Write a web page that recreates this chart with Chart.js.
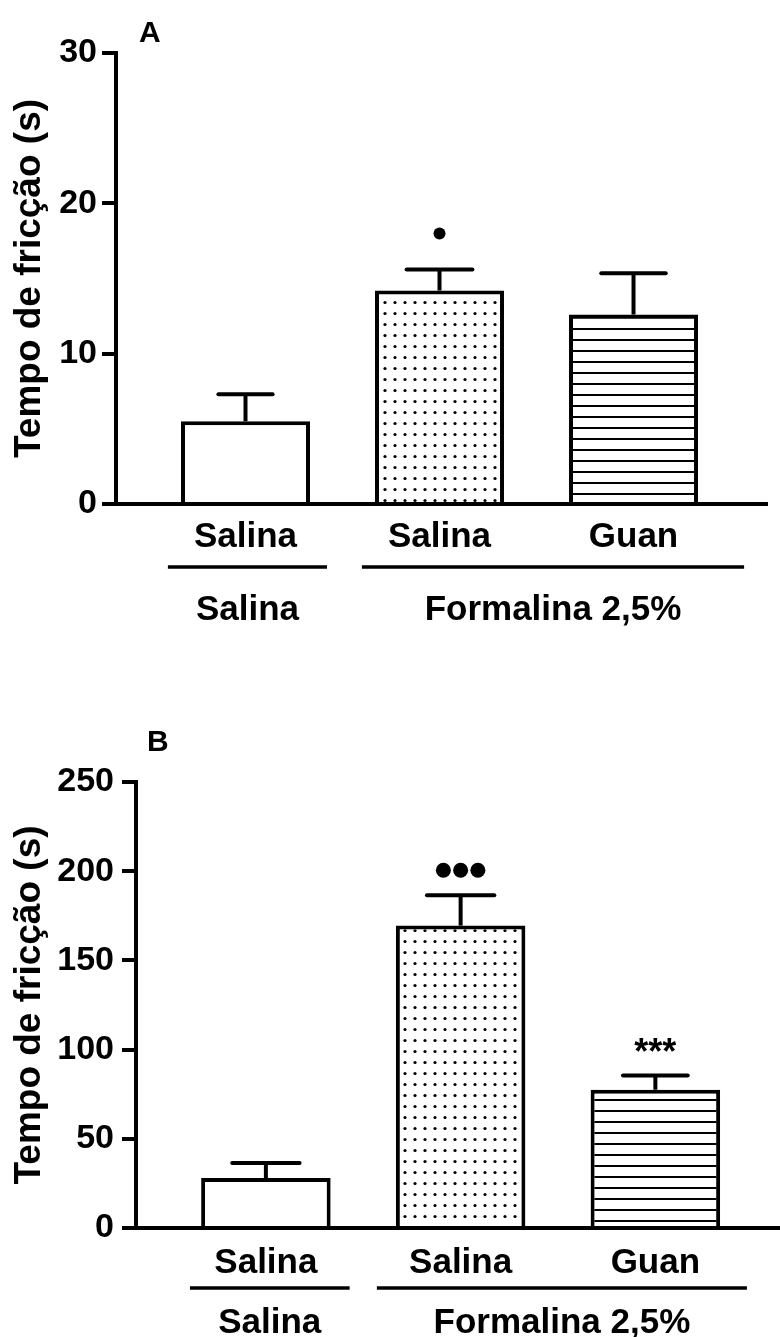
<!DOCTYPE html>
<html>
<head>
<meta charset="utf-8">
<script src="https://cdn.jsdelivr.net/npm/chart.js@4.4.1/dist/chart.umd.min.js"></script>
<style>
  html, body { margin: 0; padding: 0; background: #fff; }
  #wrap { position: relative; width: 780px; height: 1337px; }
  canvas { position: absolute; left: 0; }
</style>
</head>
<body>
<div id="wrap">
  <canvas id="chartA" width="780" height="650" style="top:0"></canvas>
  <canvas id="chartB" width="780" height="687" style="top:650px"></canvas>
</div>
<script>
// categories shared by both panels
var categories = ['Salina', 'Salina', 'Guan'];
var groupLabels = ['Salina', 'Formalina 2,5%'];

// panel A
var meansA = [5.5, 14.2, 12.6];
var errorsA = [1.8, 1.4, 2.75];
var marksA = ['', '•', ''];
var ticksA = [0, 10, 20, 30];

// panel B
var meansB = [28, 169.5, 77.5];
var errorsB = [8.4, 17, 8];
var marksB = ['', '•••', '***'];
var ticksB = [0, 50, 100, 150, 200, 250];

var FONT = "'Liberation Sans', Arial, Helvetica, sans-serif";

function dotPattern() {
    var c = document.createElement('canvas');
    c.width = 10; c.height = 11;
    var g = c.getContext('2d');
    g.fillStyle = '#fff';
    g.fillRect(0, 0, c.width, c.height);
    g.fillStyle = '#000';
    g.beginPath();
    g.arc(5, 5.5, 1.6, 0, Math.PI * 2);
    g.fill();
    return g.createPattern(c, 'repeat');
}

function linePattern() {
    var c = document.createElement('canvas');
    c.width = 8; c.height = 11;
    var g = c.getContext('2d');
    g.fillStyle = '#fff';
    g.fillRect(0, 0, c.width, c.height);
    g.fillStyle = '#000';
    g.fillRect(0, 9, c.width, 2);
    return g.createPattern(c, 'repeat');
}

// error bars, significance marks and the grouping lines under the axis
var barExtras = {
    id: 'barExtras',
    afterDatasetsDraw: function(chart, args, opts) {
        var ctx = chart.ctx;
        var yScale = chart.scales.y;
        var xScale = chart.scales.x;
        var meta = chart.getDatasetMeta(0);
        ctx.save();
        ctx.strokeStyle = '#000';
        ctx.fillStyle = '#000';
        meta.data.forEach(function(bar, i) {
            var top = yScale.getPixelForValue(opts.means[i] + opts.errors[i]);
            var half = bar.width * opts.capFrac[i] / 2;
            ctx.lineWidth = 4;
            ctx.lineCap = 'butt';
            ctx.beginPath();
            ctx.moveTo(bar.x, bar.y);
            ctx.lineTo(bar.x, top);
            ctx.stroke();
            ctx.lineCap = 'round';
            ctx.beginPath();
            ctx.moveTo(bar.x - half, top);
            ctx.lineTo(bar.x + half, top);
            ctx.stroke();

            var mark = opts.marks[i];
            if (!mark) return;
            var my = top - opts.markOffset[i];
            if (mark.charAt(0) === '•') {
                var n = mark.length, step = opts.dotRadius * 2.3;
                for (var k = 0; k < n; k++) {
                    ctx.beginPath();
                    ctx.arc(bar.x + (k - (n - 1) / 2) * step, my, opts.dotRadius, 0, Math.PI * 2);
                    ctx.fill();
                }
            } else {
                ctx.font = 'bold 36px ' + FONT;
                ctx.textAlign = 'center';
                ctx.textBaseline = 'middle';
                ctx.fillText(mark, bar.x, my + 6);
            }
        });

        var base = chart.chartArea.bottom;
        ctx.lineCap = 'butt';
        ctx.lineWidth = 3.5;
        ctx.font = 'bold 35px ' + FONT;
        ctx.textAlign = 'center';
        ctx.textBaseline = 'alphabetic';
        opts.groups.forEach(function(g, i) {
            var x0 = xScale.getPixelForValue(g[0]);
            var x1 = xScale.getPixelForValue(g[1]);
            ctx.beginPath();
            ctx.moveTo(x0, base + opts.lineOffset);
            ctx.lineTo(x1, base + opts.lineOffset);
            ctx.stroke();
            ctx.fillText(groupLabels[i], (x0 + x1) / 2, base + opts.labelOffset);
        });
        ctx.restore();
    }
};

function makeChart(id, means, errors, marks, ticks, cfg) {
    var ctx = document.getElementById(id).getContext('2d');
    return new Chart(ctx, {
        type: 'bar',
        data: {
            datasets: [{
                data: means.map(function(v, i) { return { x: i + 1, y: v }; }),
                backgroundColor: ['#fff', dotPattern(), linePattern()],
                borderColor: '#000',
                borderWidth: 4,
                barPercentage: 0.665,
                categoryPercentage: 1
            }]
        },
        options: {
            responsive: false,
            animation: false,
            devicePixelRatio: 1,
            layout: { padding: cfg.padding },
            plugins: {
                legend: { display: false },
                tooltip: { enabled: false },
                barExtras: {
                    means: means,
                    errors: errors,
                    marks: marks,
                    capFrac: cfg.capFrac,
                    markOffset: cfg.markOffset,
                    dotRadius: cfg.dotRadius,
                    groups: cfg.groups,
                    lineOffset: cfg.lineOffset,
                    labelOffset: cfg.labelOffset
                }
            },
            scales: {
                x: {
                    type: 'linear',
                    offset: false,
                    min: cfg.xMin,
                    max: cfg.xMax,
                    grid: { display: false, drawTicks: false },
                    border: { display: true, color: '#000', width: 4 },
                    afterBuildTicks: function(scale) {
                        scale.ticks = categories.map(function(c, i) { return { value: i + 1 }; });
                    },
                    afterFit: function(scale) { scale.height = cfg.xHeight; },
                    ticks: {
                        color: '#000',
                        padding: cfg.xTickPad,
                        maxRotation: 0,
                        autoSkip: false,
                        font: { family: FONT, size: 35, weight: 'bold' },
                        callback: function(v, i) { return categories[i]; }
                    }
                },
                y: {
                    min: 0,
                    max: ticks[ticks.length - 1],
                    grid: { drawOnChartArea: false, drawTicks: true, tickLength: 14, color: '#000', lineWidth: 4 },
                    border: { display: true, color: '#000', width: 4 },
                    afterBuildTicks: function(scale) {
                        scale.ticks = ticks.map(function(v) { return { value: v }; });
                    },
                    afterFit: function(scale) { scale.width = cfg.yWidth; },
                    ticks: {
                        color: '#000',
                        padding: cfg.yTickPad,
                        font: { family: FONT, size: 34, weight: 'bold' }
                    },
                    title: {
                        display: true,
                        text: 'Tempo de fricção (s)',
                        color: '#000',
                        font: { family: FONT, size: 37, weight: 'bold' },
                        padding: { top: 8, bottom: 0 }
                    }
                }
            }
        },
        plugins: [barExtras, {
            id: 'panelLetter',
            afterDraw: function(chart) {
                var c = chart.ctx;
                c.save();
                c.fillStyle = '#000';
                c.font = 'bold 30px ' + FONT;
                c.textAlign = 'left';
                c.textBaseline = 'alphabetic';
                c.fillText(cfg.letter[0], cfg.letter[1], cfg.letter[2]);
                c.restore();
            }
        }]
    });
}

makeChart('chartA', meansA, errorsA, marksA, ticksA, {
    padding: { top: 53, right: 13, left: 0, bottom: 0 },
    xMin: 0.3325, xMax: 3.688,
    xHeight: 146, yWidth: 116,
    xTickPad: 12, yTickPad: 5,
    capFrac: [0.42, 0.51, 0.5],
    markOffset: [0, 36, 0],
    dotRadius: 6,
    groups: [[0.6, 1.42], [1.6, 3.57]],
    lineOffset: 63, labelOffset: 116,
    letter: ['A', 139, 42]
});

makeChart('chartB', meansB, errorsB, marksB, ticksB, {
    padding: { top: 132, right: 0, left: 0, bottom: 0 },
    xMin: 0.333, xMax: 3.64,
    xHeight: 109, yWidth: 136,
    xTickPad: 14, yTickPad: 8,
    capFrac: [0.52, 0.52, 0.5],
    markOffset: [0, 25, 27],
    dotRadius: 7.5,
    groups: [[0.61, 1.43], [1.57, 3.47]],
    lineOffset: 60, labelOffset: 105,
    letter: ['B', 147, 101]
});
</script>
</body>
</html>
